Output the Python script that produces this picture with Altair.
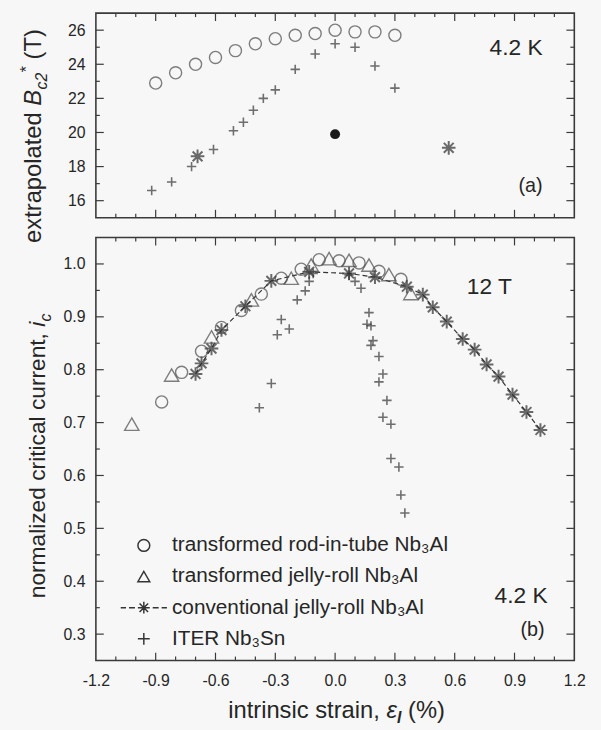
import altair as alt
import pandas as pd

# ---------------- data: panel (a) extrapolated Bc2* at 4.2 K ----------------
a_rit_x = [-0.9, -0.8, -0.7, -0.6, -0.5, -0.4, -0.3, -0.2, -0.1, 0.0, 0.1, 0.2, 0.3]
a_rit_y = [22.9, 23.5, 24.0, 24.4, 24.8, 25.2, 25.5, 25.7, 25.8, 26.0, 25.9, 25.9, 25.7]
a_iter_x = [-0.92, -0.82, -0.72, -0.61, -0.51, -0.46, -0.41, -0.36, -0.30, -0.20, -0.10, 0.0, 0.10, 0.20, 0.30]
a_iter_y = [16.6, 17.1, 18.0, 19.0, 20.1, 20.6, 21.3, 22.0, 22.5, 23.7, 24.6, 25.2, 25.0, 23.9, 22.6]
a_conv_x = [-0.69, 0.57]
a_conv_y = [18.6, 19.1]
a_dot_x = [0.0]
a_dot_y = [19.9]

# ---------------- data: panel (b) normalized critical current at 12 T ----------------
b_rit_x = [-0.87, -0.77, -0.67, -0.57, -0.47, -0.37, -0.27, -0.17, -0.08, 0.02, 0.12, 0.22, 0.33]
b_rit_y = [0.739, 0.795, 0.835, 0.880, 0.912, 0.943, 0.973, 0.990, 1.008, 1.006, 1.002, 0.986, 0.971]
b_tjr_x = [-1.02, -0.82, -0.62, -0.42, -0.22, -0.12, -0.03, 0.07, 0.17, 0.27, 0.38]
b_tjr_y = [0.697, 0.790, 0.862, 0.932, 0.973, 0.998, 1.010, 1.007, 0.998, 0.980, 0.944]
b_conv_x = [-0.70, -0.67, -0.62, -0.57, -0.45, -0.32, -0.13, 0.07, 0.20, 0.36, 0.44, 0.49,
            0.56, 0.64, 0.70, 0.76, 0.82, 0.89, 0.96, 1.03]
b_conv_y = [0.792, 0.812, 0.840, 0.875, 0.920, 0.968, 0.985, 0.982, 0.975, 0.957, 0.942, 0.918,
            0.891, 0.858, 0.838, 0.810, 0.787, 0.753, 0.720, 0.686]
b_iter_x = [-0.38, -0.32, -0.29, -0.27, -0.23, -0.19, -0.15, -0.13, -0.11, 0.07, 0.10, 0.13,
            0.17, 0.16, 0.18, 0.19, 0.18, 0.22, 0.24, 0.22, 0.26, 0.24, 0.28, 0.28, 0.32, 0.33, 0.35]
b_iter_y = [0.728, 0.774, 0.866, 0.895, 0.877, 0.932, 0.949, 0.967, 0.982, 0.979, 0.967, 0.954,
            0.908, 0.886, 0.883, 0.855, 0.846, 0.825, 0.792, 0.777, 0.742, 0.710, 0.697, 0.632,
            0.616, 0.563, 0.529]

legend_labels = ["transformed rod-in-tube Nb\u2083Al", "transformed jelly-roll Nb\u2083Al",
                 "conventional jelly-roll Nb\u2083Al", "ITER Nb\u2083Sn"]

# ---------------- tick values ----------------
x_labels = [-1.2, -0.9, -0.6, -0.3, 0.0, 0.3, 0.6, 0.9, 1.2]
x_tick_major = [-0.9, -0.6, -0.3, 0.0, 0.3, 0.6, 0.9]
x_tick_minor = [-1.1, -1.0, -0.8, -0.7, -0.5, -0.4, -0.2, -0.1, 0.1, 0.2, 0.4, 0.5, 0.7, 0.8, 1.0, 1.1]
ya_major = [16, 18, 20, 22, 24, 26]
ya_minor = [17, 19, 21, 23, 25]
yb_major = [0.3, 0.4, 0.5, 0.6, 0.7, 0.8, 0.9, 1.0]
yb_minor = [0.35, 0.45, 0.55, 0.65, 0.75, 0.85, 0.95]

# ---------------- styling ----------------
W = 484
HA = 207
HB = 428
GAP = 20
FONT = "Liberation Sans"
TXT = "#262626"
FRAME = "#3a3a3a"
INK = "#353535"
OPEN = "#4a4a4a"
PLUS = "M-1,0L1,0M0,-1L0,1"
STAR = "M-1,0L1,0M0,-1L0,1M-0.72,-0.72L0.72,0.72M-0.72,0.72L0.72,-0.72"
STAR_LEG = STAR + "M-3.9,0L-3.0,0M-2.5,0L-1.5,0M1.5,0L2.5,0M3.0,0L3.9,0"

xscale = alt.Scale(domain=[-1.2, 1.2], nice=False, zero=False)
ya_scale = alt.Scale(domain=[15, 27], nice=False, zero=False)
yb_scale = alt.Scale(domain=[0.25, 1.05], nice=False, zero=False)

lab = dict(ticks=False, domain=False, grid=False, labelFont=FONT, labelFontSize=16,
           labelColor=TXT, labelFlush=False, labelOverlap=False, title=None)
xb_axis = alt.Axis(values=x_labels, labelPadding=12,
                   labelExpr="datum.value < 0 ? '-' + format(-datum.value, '.1f') : format(datum.value, '.1f')",
                   **lab)
ya_axis = alt.Axis(values=ya_major, format="d", labelPadding=11, **lab)
yb_axis = alt.Axis(values=yb_major, format=".1f", labelPadding=11, **lab)


def XA(f):
    return alt.X(f"{f}:Q", scale=xscale, axis=None)


def XB(f):
    return alt.X(f"{f}:Q", scale=xscale, axis=xb_axis)


def YA(f):
    return alt.Y(f"{f}:Q", scale=ya_scale, axis=ya_axis)


def YB(f):
    return alt.Y(f"{f}:Q", scale=yb_scale, axis=yb_axis)


def tick_layers(X, Y, H, ymaj, ymin):
    out = []
    for vals, L in ((x_tick_major, 8), (x_tick_minor, 4)):
        base = alt.Chart(pd.DataFrame({"v": vals})).mark_rule(color=FRAME, strokeWidth=1.2)
        out.append(base.encode(x=X("v"), y=alt.value(H), y2=alt.value(H - L)))
        out.append(base.encode(x=X("v"), y=alt.value(0), y2=alt.value(L)))
    for vals, L in ((ymaj, 8), (ymin, 4)):
        base = alt.Chart(pd.DataFrame({"v": vals})).mark_rule(color=FRAME, strokeWidth=1.2)
        out.append(base.encode(y=Y("v"), x=alt.value(0), x2=alt.value(L)))
        out.append(base.encode(y=Y("v"), x=alt.value(W), x2=alt.value(W - L)))
    return out


def pts(xs, ys, X, Y, **mk):
    df = pd.DataFrame({"x": xs, "y": ys})
    return alt.Chart(df).mark_point(**mk).encode(x=X("x"), y=Y("y"))


def txt(s, x, y, size, align="left", angle=0, style="normal", dy=0, weight="normal",
        baseline="alphabetic"):
    return alt.Chart(pd.DataFrame({"t": [s]})).mark_text(
        align=align, baseline=baseline, angle=angle, fontSize=size, font=FONT,
        fontStyle=style, fontWeight=weight, dy=dy, color=TXT
    ).encode(x=alt.value(x), y=alt.value(y), text="t:N")


circle_style = dict(shape="circle", size=150, filled=False, color=OPEN, strokeWidth=1.4)
tri_style = dict(shape="triangle-up", size=210, filled=False, color=OPEN, strokeWidth=1.4)
plus_style = dict(shape=PLUS, size=90, filled=False, color=INK, strokeWidth=1.6)
star_style = dict(shape=STAR, size=190, filled=False, color="#2e2e2e", strokeWidth=2.0)

# ---------------- panel (a) ----------------
top_layers = tick_layers(XA, YA, HA, ya_major, ya_minor) + [
    pts(a_iter_x, a_iter_y, XA, YA, **plus_style),
    pts(a_rit_x, a_rit_y, XA, YA, **circle_style),
    pts(a_conv_x, a_conv_y, XA, YA, **star_style),
    pts(a_dot_x, a_dot_y, XA, YA, shape="circle", size=100, filled=True, color="#1a1a1a", opacity=1),
    txt("4.2 K", 452, 35, 23, align="right", baseline="middle"),
    txt("(a)", 452, 175, 20, align="right", baseline="middle"),
    # y title: extrapolated B_c2^* (T)
    txt("extrapolated", -55.5, 100.4, 24, align="right", angle=270),
    txt("B", -55.5, 93.7, 24, angle=270, style="italic"),
    txt("c2", -55.5, 77.2, 16, angle=270, style="italic", dy=6),
    txt("*", -55.5, 59.8, 16, angle=270, dy=-9),
    txt("(T)", -55.5, 46.9, 24, angle=270),
]
top = alt.layer(*top_layers).properties(width=W, height=HA)

# ---------------- panel (b) ----------------
leg_df = pd.DataFrame({
    "x": b_rit_x + b_tjr_x + b_conv_x + b_iter_x,
    "y": b_rit_y + b_tjr_y + b_conv_y + b_iter_y,
    "series": [legend_labels[0]] * len(b_rit_x) + [legend_labels[1]] * len(b_tjr_x)
    + [legend_labels[2]] * len(b_conv_x) + [legend_labels[3]] * len(b_iter_x),
})
# legend is lifted to the concat level, so its position is measured from panel (a)'s origin
legend_layer = alt.Chart(leg_df).mark_point(opacity=0, filled=False, color=INK, size=144).encode(
    x=XB("x"), y=YB("y"),
    shape=alt.Shape("series:N",
                    scale=alt.Scale(domain=legend_labels, range=["circle", "triangle-up", STAR_LEG, PLUS]),
                    legend=alt.Legend(orient="none", legendX=38, legendY=301 + HA + GAP, title=None,
                                      labelFont=FONT, labelFontSize=21, labelColor=TXT,
                                      labelLimit=0, labelOffset=18, symbolSize=144,
                                      symbolStrokeWidth=1.5, symbolOpacity=1,
                                      symbolStrokeColor=INK, symbolFillColor="transparent",
                                      rowPadding=9.5, padding=0)),
)

conv_df = pd.DataFrame({"x": b_conv_x, "y": b_conv_y})
conv_line = alt.Chart(conv_df).mark_line(color="#333333", strokeWidth=1.2, strokeDash=[5, 3]).encode(
    x=XB("x"), y=YB("y"))

bottom_layers = tick_layers(XB, YB, HB, yb_major, yb_minor) + [
    pts(b_iter_x, b_iter_y, XB, YB, **plus_style),
    conv_line,
    pts(b_conv_x, b_conv_y, XB, YB, **star_style),
    pts(b_rit_x, b_rit_y, XB, YB, **circle_style),
    pts(b_tjr_x, b_tjr_y, XB, YB, **tri_style),
    legend_layer,
    txt("12 T", 398, 50, 23, align="center", baseline="middle"),
    txt("4.2 K", 457, 363, 23, align="right", baseline="middle"),
    txt("(b)", 454, 397, 20, align="right", baseline="middle"),
    # y title: normalized critical current, i_c
    txt("normalized critical current,", -51.5, 96.7, 23, align="right", angle=270),
    txt("i", -51.5, 90.3, 23, angle=270, style="italic"),
    txt("c", -51.5, 84.9, 16, angle=270, style="italic", dy=6),
    # x title: intrinsic strain, eps_l (%)
    txt("intrinsic strain,", 287.2, 486, 24, align="right"),
    txt("\u03b5", 293.9, 486, 24, style="italic"),
    txt("l", 304.7, 486, 16, style="italic", weight="bold", dy=5),
    txt("(%)", 315.8, 486, 24),
]
bottom = alt.layer(*bottom_layers).properties(width=W, height=HB)

chart = alt.vconcat(top, bottom, spacing=GAP, bounds="flush").properties(
    padding={"left": 18, "top": 7, "right": 15, "bottom": 2}
).configure(background="#f7f7f7", font=FONT).configure_view(stroke=FRAME, strokeWidth=1.6)

chart.save("out.html", embed_options={"renderer": "svg", "actions": False})
